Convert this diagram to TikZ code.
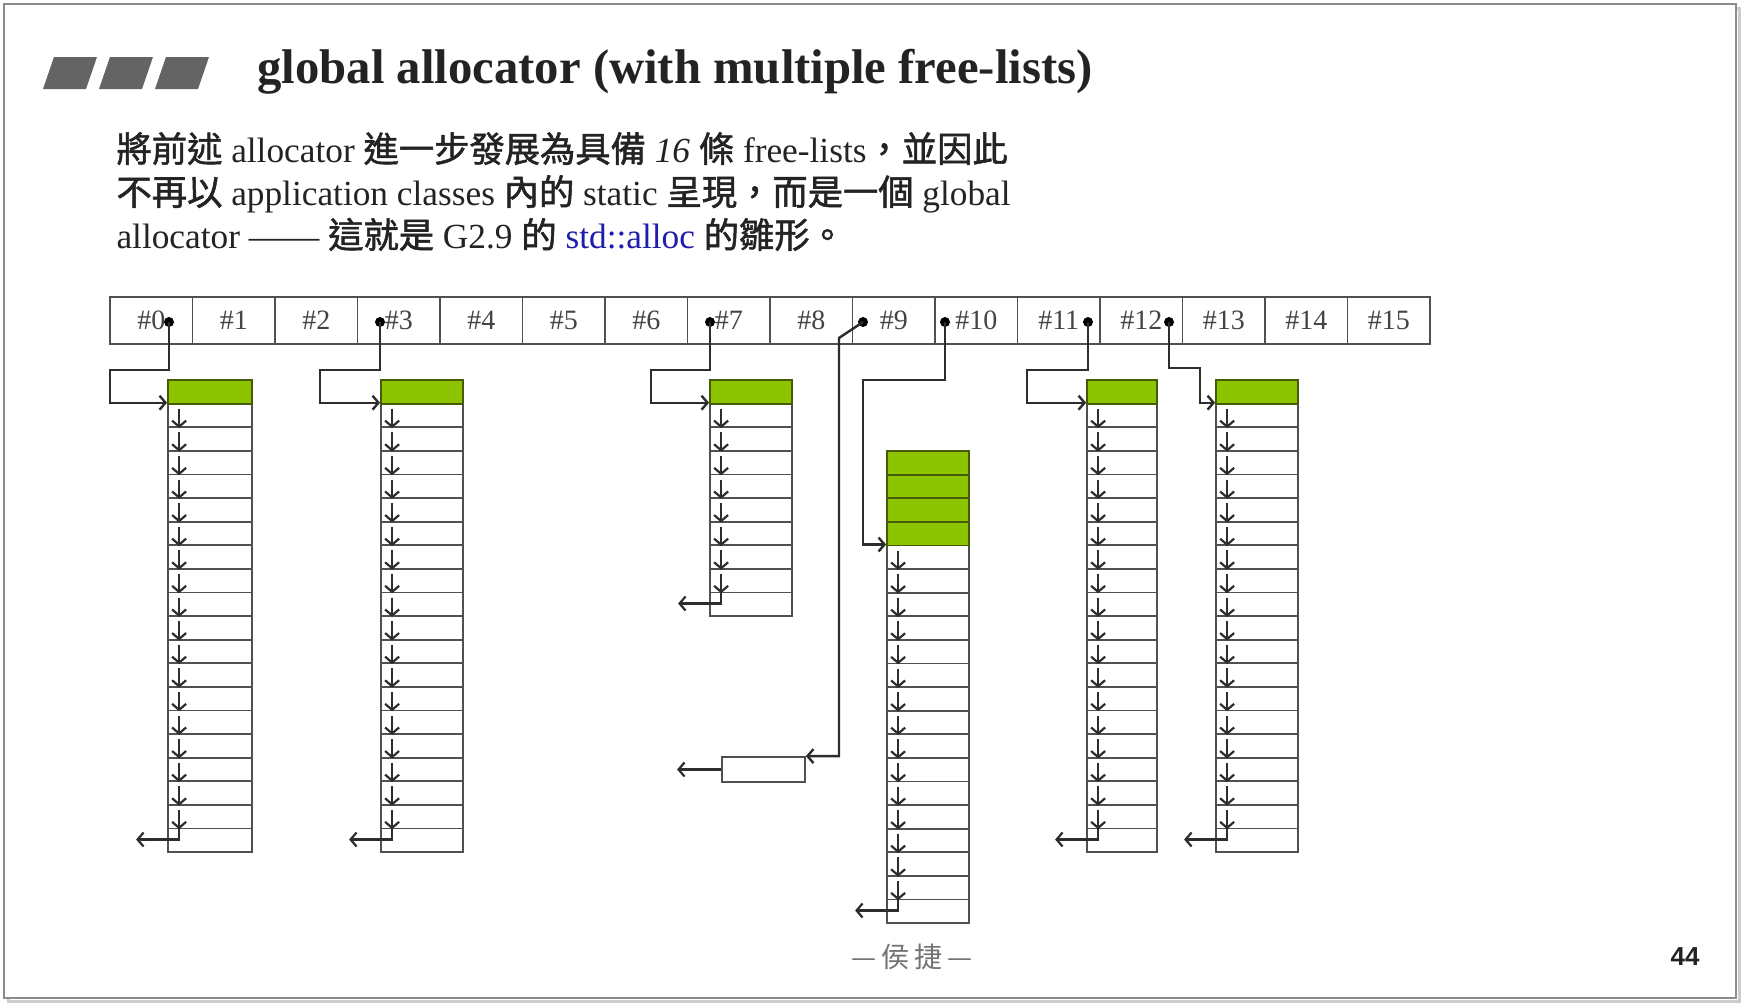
\documentclass[tikz,border=0pt]{standalone}
\usepackage{fontspec}
\setmainfont{Liberation Serif}
\newfontfamily\cjk{Noto Sans CJK TC}[FakeBold=1.5]
\newfontfamily\cjklight{Noto Sans CJK TC}
\newfontfamily\pagefont{Liberation Sans}
\usetikzlibrary{arrows.meta}
\definecolor{chunk}{RGB}{141,196,0}
\definecolor{chunkline}{RGB}{70,90,10}
\definecolor{boxline}{RGB}{80,80,80}
\definecolor{wire}{RGB}{45,45,45}
\definecolor{ink}{RGB}{35,35,35}
\definecolor{bargray}{RGB}{100,100,100}
\definecolor{stdblue}{RGB}{30,30,170}

\begin{document}
\begin{tikzpicture}[x=1pt,y=-1pt,
  cell/.style={draw=boxline,line width=1.7pt,minimum width=82.5pt,minimum height=47pt,inner sep=0pt,text=ink!85,font=\fontsize{28}{28}\selectfont},
  usedrow/.style={draw=chunkline,fill=chunk,line width=1.8pt,minimum height=23.6pt,inner sep=0pt},
  freerow/.style={draw=boxline,line width=1.8pt,minimum height=23.6pt,inner sep=0pt},
  headdot/.style={circle,fill=black,inner sep=0pt,minimum size=10pt},
  link/.style={draw=wire,line width=2.4pt,-{Straight Barb[length=6pt,width=14pt]}},
  chain/.style={draw=wire,line width=2.2pt,-{Straight Barb[length=6pt,width=14pt]}}]
  \useasboundingbox (0,0) rectangle (1742,1004);
  \fill[white] (0,0) rectangle (1742,1004);
  \draw[black!20,line width=3pt] (8,8) rectangle (1739,1001);
  \draw[black!45,line width=1.2pt,fill=white] (4,4) rectangle (1736,998);
  \foreach \k in {0,1,2}
    \fill[bargray] ({43+56*\k},89) -- ++(11,-32) -- ++(43,0) -- ++(-11,32) -- cycle;
  \node[anchor=base west,text=ink,font=\bfseries\fontsize{48.7}{48.7}\selectfont] (title) at (254,83) {global allocator (with multiple free-lists)};
  \node[anchor=base west,text=ink,font=\fontsize{35.3}{40}\selectfont] (line1) at (113,162) {{\cjk 將前述} allocator {\cjk 進一步發展為具備} \textit{16} {\cjk 條} free-lists{\cjk ，並因此}};
  \node[anchor=base west,text=ink,font=\fontsize{35.3}{40}\selectfont] (line2) at (113,205) {{\cjk 不再以} application classes {\cjk 內的} static {\cjk 呈現，而是一個} global};
  \node[anchor=base west,text=ink,font=\fontsize{35.3}{40}\selectfont] (line3) at (113,248) {allocator —— {\cjk 這就是} G2.9 {\cjk 的} \textcolor{stdblue}{std::alloc} {\cjk 的雛形。}};
  \foreach \i in {0,...,15}
    \node[cell] (c\i) at ({151.25+82.5*\i},320.5) {\#\i};
  \foreach \b/\x/\w/\t/\g/\n in {A/168/84/380/1/19,B/381/82/380/1/19,C/710/82/380/1/9,D/887/82/451/4/16,E/1087/70/380/1/19,F/1216/82/380/1/19}{
    \foreach \i in {1,...,\n}
      \node[freerow,minimum width=\w pt] (\b-\i) at ({\x+\w/2},{\t+23.6*(\g+\i-0.5)}) {};
    \foreach \j in {1,...,\g}
      \node[usedrow,minimum width=\w pt] (\b-g\j) at ({\x+\w/2},{\t+23.6*(\j-0.5)}) {};
    \pgfmathtruncatemacro\m{\n-1}
    \foreach \i in {1,...,\m}
      \draw[chain] ([xshift=12pt,yshift=-6pt]\b-\i.north west) -- ([xshift=12pt]\b-\i.south west);
    \draw[chain] ([xshift=12pt]\b-\n.north west) |- ++(-43,12);
  }
  \node[freerow,minimum width=83pt,minimum height=25pt] (spare) at (763.5,769.5) {};
  \draw[chain] (spare.west) -- ++(-44,0);
  \node[headdot] (d0) at (169,322) {};
  \node[headdot] (d3) at (380,322) {};
  \node[headdot] (d7) at (710,322) {};
  \node[headdot] (d9) at (863,322) {};
  \node[headdot] (d10) at (945,322) {};
  \node[headdot] (d11) at (1088,322) {};
  \node[headdot] (d12) at (1169,322) {};
  \draw[link] (d0.center) |- ++(-59,48) |- (A-1.north west);
  \draw[link] (d3.center) |- ++(-60,48) |- (B-1.north west);
  \draw[link] (d7.center) |- ++(-59,48) |- (C-1.north west);
  \draw[link] (d9.center) -- ++(-24,16) |- (spare.north east);
  \draw[link] (d10.center) |- ++(-82,58) |- (D-1.north west);
  \draw[link] (d11.center) |- ++(-61,48) |- (E-1.north west);
  \draw[link] (d12.center) |- ++(31,46) |- (F-1.north west);
  \node[text=black!55,font=\cjklight\fontsize{28}{28}\selectfont] (author) at (912,957) {—\,侯\,捷\,—};
  \node[text=ink,font=\pagefont\bfseries\fontsize{26}{26}\selectfont] (page) at (1685,957) {44};
\end{tikzpicture}
\end{document}
